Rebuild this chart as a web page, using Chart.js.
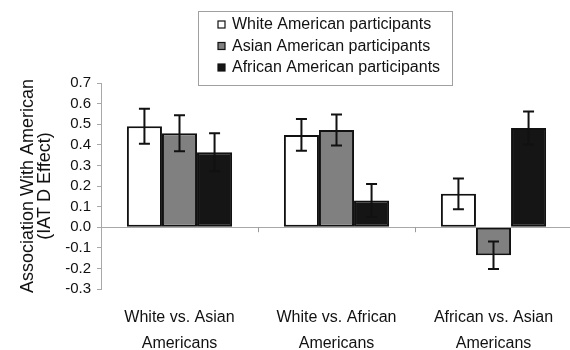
<!DOCTYPE html>
<html>
<head>
<meta charset="utf-8">
<script src="https://cdn.jsdelivr.net/npm/chart.js@4"></script>
<style>
  html, body { margin: 0; padding: 0; background: #fff; overflow: hidden; }
  #wrap { width: 572px; height: 350px; }
</style>
</head>
<body>
<div id="wrap"><canvas id="c" width="572" height="350"></canvas></div>
<script>
// Comparison groups (x axis)
const categories = [
  ["White vs. Asian", "Americans"],
  ["White vs. African", "Americans"],
  ["African vs. Asian", "Americans"]
];
const seriesNames = ["White American participants", "Asian American participants", "African American participants"];

// Mean IAT D effect per participant group
const whiteMeans   = [0.49, 0.448, 0.162];
const asianMeans   = [0.456, 0.472, -0.136];
const africanMeans = [0.364, 0.13, 0.482];

// Error bar half-lengths
const whiteErr   = [0.085, 0.077, 0.075];
const asianErr   = [0.087, 0.075, 0.067];
const africanErr = [0.092, 0.08, 0.08];

// Y axis range and step
const yMin = -0.3, yMax = 0.7, yStep = 0.1;

const FONT = "'Liberation Sans', Arial, Helvetica, sans-serif";

// Whisker drawing for each bar
const errorBars = {
  id: 'errorBars',
  afterDatasetsDraw(chart) {
    const ctx = chart.ctx, y = chart.scales.y;
    chart.data.datasets.forEach((ds, i) => {
      const meta = chart.getDatasetMeta(i);
      meta.data.forEach((bar, j) => {
        const m = ds.data[j], e = ds.errors[j];
        const yt = y.getPixelForValue(m + e), yb = y.getPixelForValue(m - e);
        ctx.save();
        ctx.strokeStyle = '#111';
        ctx.lineWidth = 2;
        ctx.beginPath();
        ctx.moveTo(bar.x, yt); ctx.lineTo(bar.x, yb);
        ctx.moveTo(bar.x - 5.5, yt); ctx.lineTo(bar.x + 5.5, yt);
        ctx.moveTo(bar.x - 5.5, yb); ctx.lineTo(bar.x + 5.5, yb);
        ctx.stroke();
        ctx.restore();
      });
    });
  }
};

// Small category divider ticks on the zero line
const zeroTicks = {
  id: 'zeroTicks',
  afterDatasetsDraw(chart) {
    const ctx = chart.ctx, x = chart.scales.x, y = chart.scales.y;
    const y0 = y.getPixelForValue(0);
    ctx.save();
    ctx.strokeStyle = '#9a9a9a';
    ctx.lineWidth = 1;
    for (let i = 0; i < categories.length - 1; i++) {
      const px = Math.round((x.getPixelForValue(i) + x.getPixelForValue(i + 1)) / 2) + 0.5;
      ctx.beginPath();
      ctx.moveTo(px, y0); ctx.lineTo(px, y0 + 5);
      ctx.stroke();
    }
    ctx.restore();
  }
};

// Boxed legend with square swatches
const boxLegend = {
  id: 'boxLegend',
  afterDraw(chart) {
    const ctx = chart.ctx;
    const bx = 198, by = 11, bw = 254, bh = 74;
    ctx.save();
    ctx.fillStyle = '#fff';
    ctx.fillRect(bx, by, bw, bh);
    ctx.strokeStyle = '#a0a0a0';
    ctx.lineWidth = 1;
    ctx.strokeRect(bx + 0.5, by + 0.5, bw, bh);
    ctx.font = '16px ' + FONT;
    ctx.textBaseline = 'middle';
    chart.data.datasets.forEach((ds, i) => {
      const cy = 24.5 + i * 21.5;
      ctx.fillStyle = ds.backgroundColor;
      ctx.fillRect(218, cy - 3.5, 7, 7);
      ctx.strokeStyle = '#111';
      ctx.lineWidth = 1.2;
      ctx.strokeRect(218, cy - 3.5, 7, 7);
      ctx.fillStyle = '#111';
      ctx.fillText(ds.label, 232, cy + 0.5);
    });
    ctx.restore();
  }
};

const means = [whiteMeans, asianMeans, africanMeans];
const errs = [whiteErr, asianErr, africanErr];
const fills = ['#ffffff', '#808080', '#151515'];

new Chart(document.getElementById('c'), {
  type: 'bar',
  data: {
    labels: categories,
    datasets: seriesNames.map((name, i) => ({
      label: name,
      data: means[i],
      errors: errs[i],
      backgroundColor: fills[i],
      borderColor: '#111',
      borderWidth: 2,
      borderSkipped: false,
      categoryPercentage: 0.67,
      barPercentage: 1.0
    }))
  },
  options: {
    responsive: false,
    animation: false,
    devicePixelRatio: 1,
    layout: { padding: { top: 83, left: 19, right: 0, bottom: 0 } },
    plugins: {
      legend: { display: false },
      tooltip: { enabled: false }
    },
    scales: {
      x: {
        afterFit: (s) => { s.height = 61; },
        grid: { display: false, drawTicks: false },
        border: { display: false },
        ticks: {
          color: '#111',
          font: { family: FONT, size: 16, lineHeight: 1.6 },
          padding: 16,
          maxRotation: 0,
          autoSkip: false
        }
      },
      y: {
        min: yMin,
        max: yMax,
        afterFit: (s) => { s.width = 82; },
        grid: {
          color: (c) => (c.tick && Math.abs(c.tick.value) < 1e-9) ? '#a8a8a8' : 'rgba(0,0,0,0)',
          tickColor: '#a8a8a8',
          tickLength: 4,
          lineWidth: 1
        },
        border: { display: true, color: '#a8a8a8', width: 1 },
        ticks: {
          stepSize: yStep,
          autoSkip: false,
          color: '#111',
          padding: 6,
          font: { family: FONT, size: 15 },
          callback: (v) => (Math.abs(v) < 1e-9 ? 0 : v).toFixed(1)
        },
        title: {
          display: true,
          text: ['Association With American', '(IAT D Effect)'],
          color: '#111',
          font: { family: FONT, size: 18, lineHeight: 0.95 },
          padding: { top: 0, bottom: 6 }
        }
      }
    }
  },
  plugins: [errorBars, zeroTicks, boxLegend]
});
</script>
</body>
</html>
